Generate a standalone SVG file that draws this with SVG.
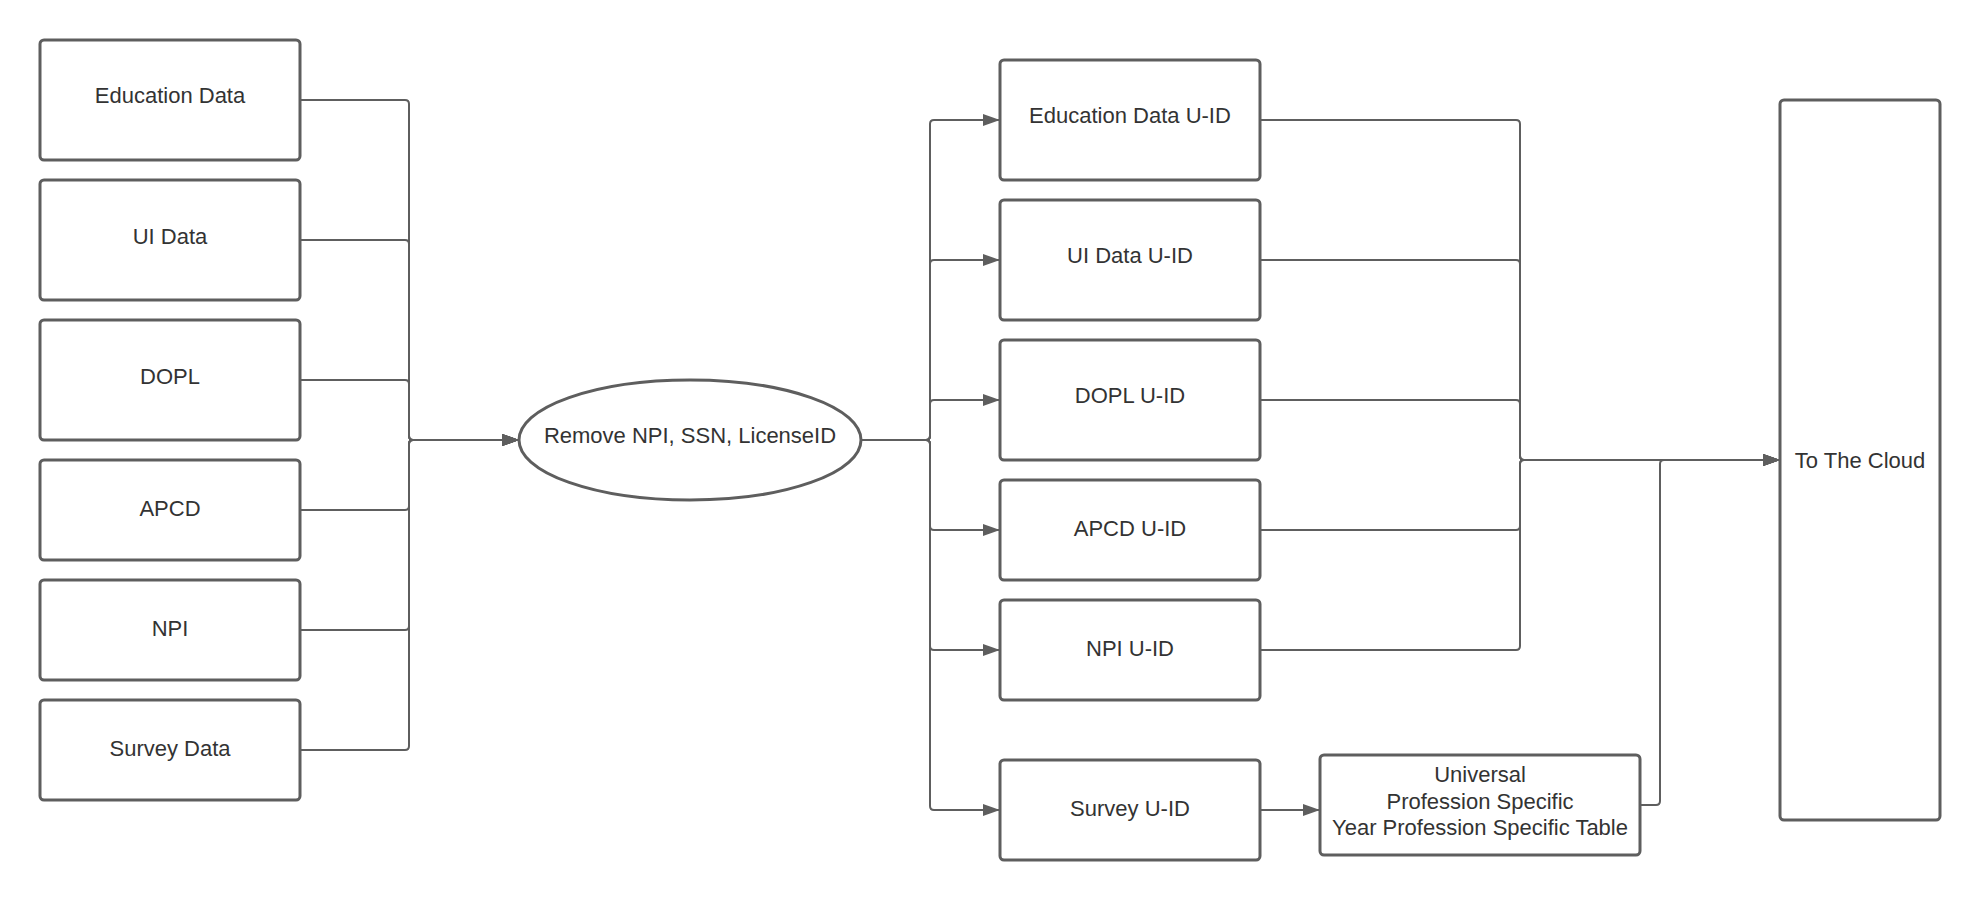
<svg xmlns="http://www.w3.org/2000/svg" width="1980" height="900" viewBox="0 0 1980 900">
<defs>
<marker id="arr" markerUnits="userSpaceOnUse" markerWidth="17" markerHeight="12" refX="17" refY="6" orient="auto">
<path d="M0,0 L17,6 L0,12 z" fill="#5e5e5e"/>
</marker>
<style>
.box{fill:#ffffff;stroke:#5e5e5e;stroke-width:3}
.t{font-family:"Liberation Sans",Arial,sans-serif;font-size:22px;fill:#333333;text-anchor:middle}
.c{fill:none;stroke:#5e5e5e;stroke-width:2}
.a{marker-end:url(#arr)}
</style>
</defs>
<rect width="1980" height="900" fill="#ffffff"/>
<g id="connectors">
<path class="c a" d="M300,100 H405 Q409,100 409,104 V436 Q409,440 413,440 H519"/>
<path class="c a" d="M300,240 H405 Q409,240 409,244 V436 Q409,440 413,440 H519"/>
<path class="c a" d="M300,380 H405 Q409,380 409,384 V436 Q409,440 413,440 H519"/>
<path class="c a" d="M300,510 H405 Q409,510 409,506 V444 Q409,440 413,440 H519"/>
<path class="c a" d="M300,630 H405 Q409,630 409,626 V444 Q409,440 413,440 H519"/>
<path class="c a" d="M300,750 H405 Q409,750 409,746 V444 Q409,440 413,440 H519"/>
<path class="c a" d="M861,440 H926 Q930,440 930,436 V124 Q930,120 934,120 H1000"/>
<path class="c a" d="M861,440 H926 Q930,440 930,436 V264 Q930,260 934,260 H1000"/>
<path class="c a" d="M861,440 H926 Q930,440 930,436 V404 Q930,400 934,400 H1000"/>
<path class="c a" d="M861,440 H926 Q930,440 930,444 V526 Q930,530 934,530 H1000"/>
<path class="c a" d="M861,440 H926 Q930,440 930,444 V646 Q930,650 934,650 H1000"/>
<path class="c a" d="M861,440 H926 Q930,440 930,444 V806 Q930,810 934,810 H1000"/>
<path class="c a" d="M1260,120 H1516 Q1520,120 1520,124 V456 Q1520,460 1524,460 H1780"/>
<path class="c a" d="M1260,260 H1516 Q1520,260 1520,264 V456 Q1520,460 1524,460 H1780"/>
<path class="c a" d="M1260,400 H1516 Q1520,400 1520,404 V456 Q1520,460 1524,460 H1780"/>
<path class="c a" d="M1260,530 H1516 Q1520,530 1520,526 V464 Q1520,460 1524,460 H1780"/>
<path class="c a" d="M1260,650 H1516 Q1520,650 1520,646 V464 Q1520,460 1524,460 H1780"/>
<path class="c a" d="M1260,810 H1320"/>
<path class="c a" d="M1640,805 H1656 Q1660,805 1660,801 V464 Q1660,460 1664,460 H1780"/>
</g>
<g id="n-education"><rect class="box" x="40" y="40" width="260" height="120" rx="4"/><text class="t" x="170" y="103">Education Data</text></g>
<g id="n-ui"><rect class="box" x="40" y="180" width="260" height="120" rx="4"/><text class="t" x="170" y="244">UI Data</text></g>
<g id="n-dopl"><rect class="box" x="40" y="320" width="260" height="120" rx="4"/><text class="t" x="170" y="384">DOPL</text></g>
<g id="n-apcd"><rect class="box" x="40" y="460" width="260" height="100" rx="4"/><text class="t" x="170" y="516">APCD</text></g>
<g id="n-npi"><rect class="box" x="40" y="580" width="260" height="100" rx="4"/><text class="t" x="170" y="636">NPI</text></g>
<g id="n-survey"><rect class="box" x="40" y="700" width="260" height="100" rx="4"/><text class="t" x="170" y="756">Survey Data</text></g>
<g id="n-remove"><ellipse class="box" cx="690" cy="440" rx="171" ry="60"/><text class="t" x="690" y="443">Remove NPI, SSN, LicenseID</text></g>
<g id="n-education-uid"><rect class="box" x="1000" y="60" width="260" height="120" rx="4"/><text class="t" x="1130" y="123">Education Data U-ID</text></g>
<g id="n-ui-uid"><rect class="box" x="1000" y="200" width="260" height="120" rx="4"/><text class="t" x="1130" y="263">UI Data U-ID</text></g>
<g id="n-dopl-uid"><rect class="box" x="1000" y="340" width="260" height="120" rx="4"/><text class="t" x="1130" y="403">DOPL U-ID</text></g>
<g id="n-apcd-uid"><rect class="box" x="1000" y="480" width="260" height="100" rx="4"/><text class="t" x="1130" y="536">APCD U-ID</text></g>
<g id="n-npi-uid"><rect class="box" x="1000" y="600" width="260" height="100" rx="4"/><text class="t" x="1130" y="656">NPI U-ID</text></g>
<g id="n-survey-uid"><rect class="box" x="1000" y="760" width="260" height="100" rx="4"/><text class="t" x="1130" y="816">Survey U-ID</text></g>
<g id="n-universal"><rect class="box" x="1320" y="755" width="320" height="100" rx="4"/><text class="t" x="1480" y="782">Universal</text><text class="t" x="1480" y="808.5">Profession Specific</text><text class="t" x="1480" y="835">Year Profession Specific Table</text></g>
<g id="n-cloud"><rect class="box" x="1780" y="100" width="160" height="720" rx="4"/><text class="t" x="1860" y="468">To The Cloud</text></g>
</svg>
